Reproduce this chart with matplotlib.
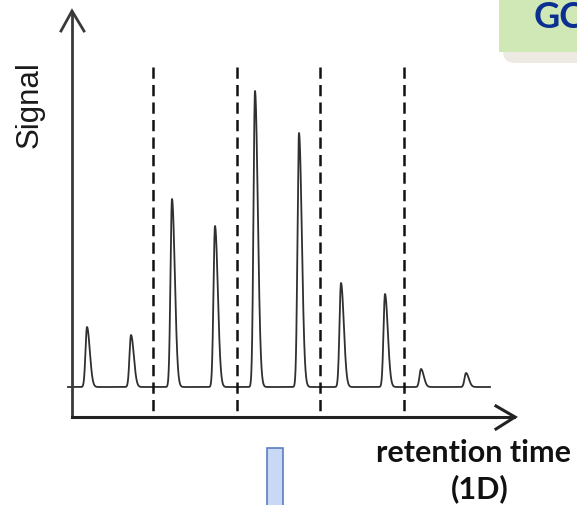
import numpy as np
import matplotlib.pyplot as plt
from matplotlib.patches import FancyBboxPatch, Rectangle

# Peak apex positions (retention time, px scale) and apex heights above baseline
peak_pos = [87, 131, 172, 215, 255, 299, 341, 385, 421, 466]
peak_top = [328, 336, 200, 227, 92, 134, 284, 295, 370, 374]
# 1D modulation boundaries
modulations = [153, 237, 320, 404]
baseline = 388

W, H = 577, 506
fig = plt.figure(figsize=(W / 100, H / 100), dpi=100)
ax = fig.add_axes([0, 0, 1, 1])
ax.set_xlim(0, W)
ax.set_ylim(H, 0)
ax.axis("off")

# chromatogram trace: tailing peaks on a flat baseline
x = np.linspace(68, 490, 4000)
y = np.full_like(x, baseline, dtype=float)
for p, t in zip(peak_pos, peak_top):
    h = baseline - t
    d = x - p
    sig = np.where(d < 0, 1.5, 2.8)
    y -= h * np.exp(-0.5 * (d / sig) ** 2)
ax.plot(x, y, color="#303030", lw=1.3, solid_joinstyle="round")

# modulation dashed lines
for m in modulations:
    ax.plot([m, m], [68, 418], color="#111111", lw=1.8, ls=(0, (4.5, 2.5)))

# axes with open arrowheads
ax_col = "#3a3a3a"
ax.plot([72, 72], [418, 13], color=ax_col, lw=2)
ax.plot([61, 72, 84], [32, 12, 32], color=ax_col, lw=2, solid_joinstyle="miter")
ax.plot([72, 514], [418, 418], color="#222222", lw=2.2)
ax.plot([496, 515, 496], [407, 418, 430], color="#222222", lw=2.2, solid_joinstyle="miter")

ax.text(30, 105, "Signal", rotation=90, ha="center", va="center",
        fontsize=22.5, family="Liberation Sans", color="#1a1a1a")

ax.text(474, 453, "retention time", ha="center", va="center",
        fontsize=22, fontweight="bold", family="Lato", color="#111111")
ax.text(480, 489, "(1D)", ha="center", va="center",
        fontsize=22, fontweight="bold", family="Lato", color="#111111")

# title box in the corner
shadow = FancyBboxPatch((503, -20), 90, 84, boxstyle="round,pad=0,rounding_size=12",
                        fc="#ECEAE2", ec="none")
ax.add_patch(shadow)
ax.add_patch(Rectangle((499, -5), 90, 58, fc="#D0E8B6", ec="none"))
ax.text(534, 17, "GC", ha="left", va="center", fontsize=26,
        fontweight="bold", family="Lato", color="#0B3091")

# arrow stub pointing to the 2D step
ax.add_patch(Rectangle((267, 449), 16, 70, fc="#C9D8F4", ec="#5A7FC0", lw=1.2))

fig.savefig("out.png", dpi=100)
